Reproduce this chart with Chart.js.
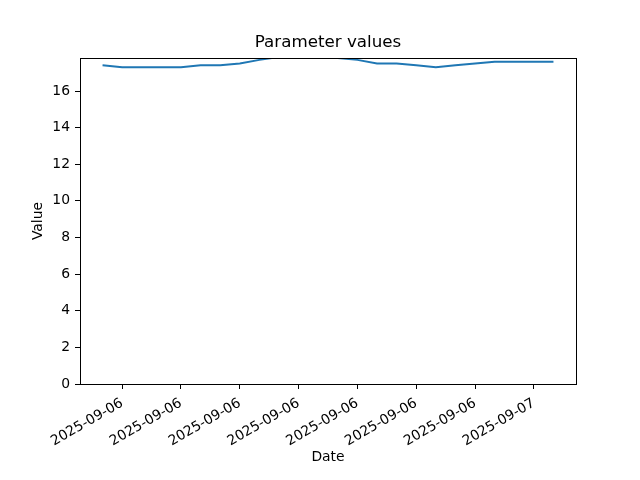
<!DOCTYPE html>
<html>
<head>
<meta charset="utf-8">
<script src="https://cdn.jsdelivr.net/npm/chart.js@4/dist/chart.umd.min.js"></script>
<style>
  body { margin: 0; background: #fff; }
  canvas { display: block; }
</style>
</head>
<body>
<canvas id="chart" width="640" height="480"></canvas>
<script>
"use strict";

// hours since 2025-09-06 00:00, one reading per hour
var hours = [2, 3, 4, 5, 6, 7, 8, 9, 10, 11, 12, 13, 14, 15, 16, 17, 18, 19, 20, 21, 22, 23, 24, 25];
var values = [17.4, 17.3, 17.3, 17.3, 17.3, 17.4, 17.4, 17.5, 17.7, 17.85, 17.9, 17.85,
              17.8, 17.7, 17.5, 17.5, 17.4, 17.3, 17.4, 17.5, 17.6, 17.6, 17.6, 17.6];

var tickHours = [3, 6, 9, 12, 15, 18, 21, 24];
var tickLabels = ['2025-09-06', '2025-09-06', '2025-09-06', '2025-09-06',
                  '2025-09-06', '2025-09-06', '2025-09-06', '2025-09-07'];

Chart.defaults.font.family = "'DejaVu Sans', sans-serif";
Chart.defaults.font.size = 13.9;
Chart.defaults.color = '#000';

// full box round the plot area, like matplotlib spines
var frame = {
  id: 'frame',
  afterDatasetsDraw: function(chart) {
    var a = chart.chartArea, ctx = chart.ctx;
    ctx.save();
    ctx.strokeStyle = '#000';
    ctx.lineWidth = 1;
    ctx.strokeRect(Math.round(a.left) + 0.5, Math.round(a.top) + 0.5,
                   Math.round(a.right - a.left), Math.round(a.bottom - a.top));
    ctx.restore();
  }
};

var pts = hours.map(function(h, i) { return { x: h, y: values[i] }; });

new Chart(document.getElementById('chart').getContext('2d'), {
  type: 'line',
  data: {
    datasets: [{
      data: pts,
      borderColor: '#1f77b4',
      borderWidth: 2,
      pointRadius: 0,
      tension: 0,
      fill: false,
      clip: 0
    }]
  },
  options: {
    responsive: false,
    animation: false,
    layout: { padding: { left: 16, top: 0, right: 0, bottom: 0 } },
    plugins: {
      legend: { display: false },
      tooltip: { enabled: false },
      title: {
        display: true,
        text: 'Parameter values',
        color: '#000',
        font: { size: 16.7, weight: 'normal' },
        padding: { top: 33, bottom: 5 }
      }
    },
    scales: {
      x: {
        type: 'linear',
        min: 0.85,
        max: 26.15,
        afterBuildTicks: function(scale) {
          scale.ticks = tickHours.map(function(h) { return { value: h }; });
        },
        afterFit: function(scale) { scale.height = 96; },
        ticks: {
          autoSkip: false,
          minRotation: 30,
          maxRotation: 30,
          padding: 6,
          callback: function(v) {
            var i = tickHours.indexOf(v);
            return i < 0 ? '' : tickLabels[i];
          }
        },
        grid: { drawOnChartArea: false, drawTicks: true, tickLength: 5, color: '#000' },
        border: { color: '#000', width: 1 },
        title: { display: true, text: 'Date', padding: { top: 0, bottom: 14.6 } }
      },
      y: {
        min: 0,
        max: 17.8,
        afterBuildTicks: function(scale) {
          scale.ticks = scale.ticks.filter(function(t) { return t.value % 2 === 0; });
        },
        afterFit: function(scale) { scale.width = 64; },
        ticks: { stepSize: 2, padding: 5 },
        grid: { drawOnChartArea: false, drawTicks: true, tickLength: 5, color: '#000' },
        border: { color: '#000', width: 1 },
        title: { display: true, text: 'Value', padding: { top: 13.6, bottom: 0 } }
      },
      // empty right-hand box, only keeps the right margin
      yRight: {
        position: 'right',
        display: true,
        min: 0,
        max: 17.8,
        afterFit: function(scale) { scale.width = 64; },
        ticks: { display: false },
        grid: { display: false },
        border: { display: false }
      }
    }
  },
  plugins: [frame]
});
</script>
</body>
</html>
